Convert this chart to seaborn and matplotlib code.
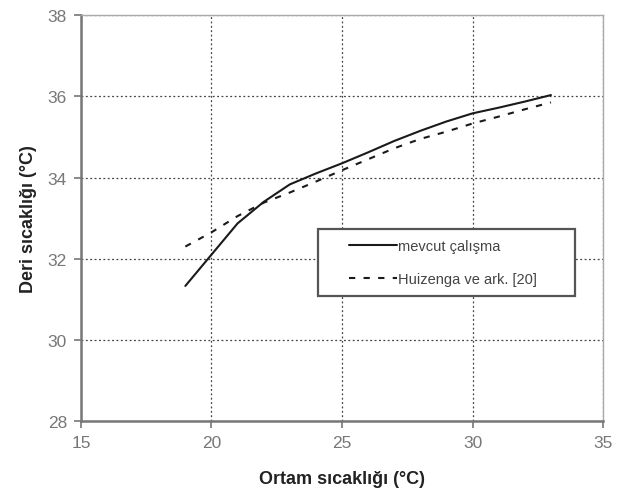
import matplotlib
matplotlib.use("Agg")
import matplotlib.pyplot as plt
from matplotlib.patches import Rectangle
import seaborn as sns
import pandas as pd

# Ambient temperature (°C)
ortam = [19, 20, 21, 22, 23, 24, 25, 26, 27, 28, 29, 30, 31, 32, 33]
# Skin temperature, present study
mevcut = [31.33, 32.1, 32.87, 33.4, 33.83, 34.1, 34.35, 34.62, 34.9, 35.15, 35.38, 35.58, 35.72, 35.87, 36.03]
# Skin temperature, Huizenga et al. [20]
huizenga = [32.3, 32.65, 33.05, 33.38, 33.63, 33.9, 34.18, 34.45, 34.72, 34.95, 35.13, 35.33, 35.5, 35.68, 35.85]

x_ticks = [15, 20, 25, 30, 35]
y_ticks = [28, 30, 32, 34, 36, 38]

sns.set_theme(style="white")
plt.rcParams["font.family"] = ["Liberation Sans", "DejaVu Sans"]

df = pd.DataFrame({"ortam": ortam, "mevcut": mevcut, "huizenga": huizenga})

fig = plt.figure(figsize=(6.27, 5.02), dpi=100)
ax = fig.add_axes([0.129, 0.159, 0.833, 0.809])

sns.lineplot(data=df, x="ortam", y="mevcut", ax=ax, color="#1a1a1a",
             linewidth=1.5, label="mevcut çalışma")
sns.lineplot(data=df, x="ortam", y="huizenga", ax=ax, color="#1a1a1a",
             linewidth=1.5, linestyle=(0, (3, 4)), label="Huizenga ve ark. [20]")

ax.set_xlim(15, 35)
ax.set_ylim(28, 38)
ax.set_xticks(x_ticks)
ax.set_yticks(y_ticks)
ax.grid(True, linestyle=(0, (1.5, 2)), color="#444444", linewidth=0.9)

for side in ["left", "bottom"]:
    ax.spines[side].set_color("#777777")
    ax.spines[side].set_linewidth(1.8)
for side in ["top", "right"]:
    ax.spines[side].set_color("#aaaaaa")
    ax.spines[side].set_linewidth(1.0)
    ax.spines[side].set_visible(True)

ax.tick_params(axis="both", which="major", direction="out", length=5, width=1.2,
               color="#777777", labelsize=12.5, labelcolor="#777777", pad=5,
               left=True, bottom=True)

ax.set_xlabel("Ortam sıcaklığı (°C)", fontsize=13, fontweight="bold",
              color="#222222", labelpad=14)
ax.set_ylabel("Deri sıcaklığı (°C)", fontsize=13, fontweight="bold",
              color="#222222", labelpad=8)

# Legend box drawn as a separate rectangle, entries placed inside it
box = Rectangle((0.454, 0.308), 0.492, 0.165, transform=ax.transAxes,
                facecolor="white", edgecolor="#555555", linewidth=1.6, zorder=4)
ax.add_patch(box)

leg = ax.legend(loc="center left", bbox_to_anchor=(0.513, 0.3905),
                fontsize=10.5, handlelength=3.3, handletextpad=0.05,
                borderpad=0.0, labelspacing=1.3, frameon=False,
                borderaxespad=0)
leg.set_zorder(5)
for t in leg.get_texts():
    t.set_color("#444444")

fig.savefig("out.png", dpi=100)
